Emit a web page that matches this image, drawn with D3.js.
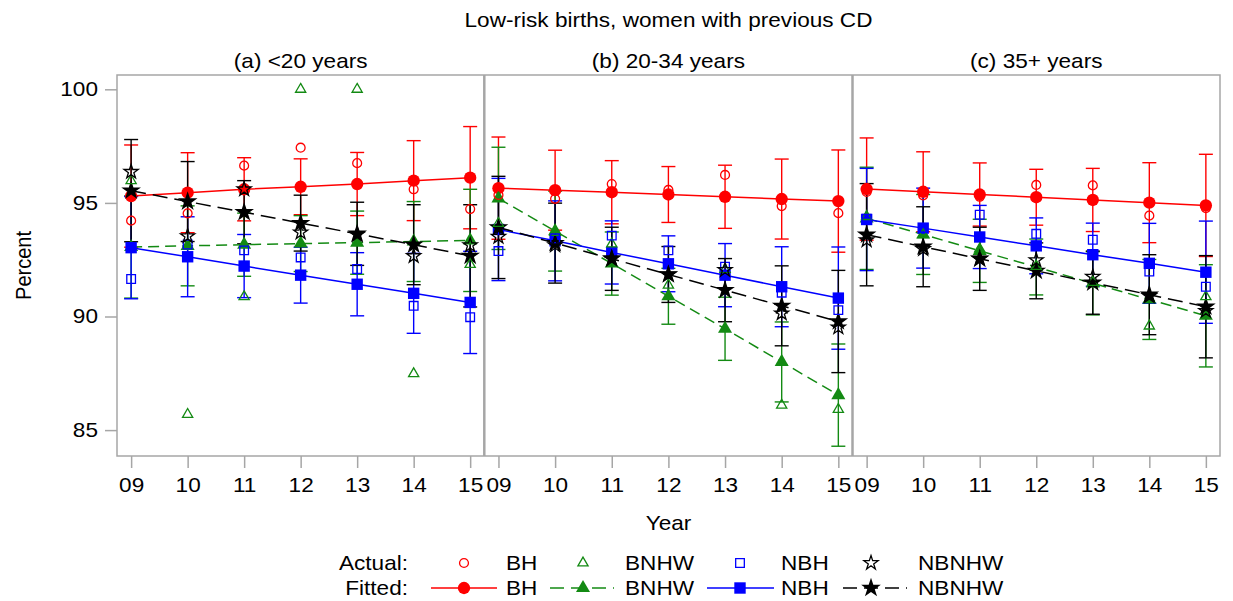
<!DOCTYPE html>
<html>
<head>
<meta charset="utf-8">
<script src="https://cdn.jsdelivr.net/npm/d3@7"></script>
<style>
  html, body { margin: 0; padding: 0; background: #fff; }
  svg { display: block; font-family: "Liberation Sans", Arial, sans-serif; }
</style>
</head>
<body>
<svg id="chart" width="1233" height="601"></svg>
<script>
// ---------------- data ----------------
const years = ["09", "10", "11", "12", "13", "14", "15"];
const panelTitles = ["(a) <20 years", "(b) 20-34 years", "(c) 35+ years"];
const seriesNames = ["BH", "BNHW", "NBH", "NBNHW"];
const yTicks = [85, 90, 95, 100];
// half-width of the confidence interval around each fitted value, per year
const ciHalf = [2.25, 1.76, 1.39, 1.23, 1.39, 1.76, 2.25];

// fitted values: one row per panel (a, b, c)
const fittedBH = [
  [95.30, 95.45, 95.60, 95.71, 95.83, 95.98, 96.11],
  [95.65, 95.56, 95.47, 95.37, 95.27, 95.17, 95.08],
  [95.61, 95.49, 95.37, 95.25, 95.13, 95.01, 94.89]
];
const fittedBNHW = [
  [93.06, 93.11, 93.16, 93.21, 93.25, 93.30, 93.35],
  [95.20, 93.76, 92.33, 90.89, 89.46, 88.00, 86.54],
  [94.32, 93.61, 92.89, 92.18, 91.46, 90.75, 90.03]
];
const fittedNBH = [
  [93.03, 92.63, 92.22, 91.82, 91.42, 91.02, 90.62],
  [93.83, 93.33, 92.82, 92.32, 91.82, 91.31, 90.81],
  [94.27, 93.89, 93.50, 93.11, 92.72, 92.34, 91.95]
];
const fittedNBNHW = [
  [95.54, 95.06, 94.59, 94.11, 93.64, 93.16, 92.67],
  [93.92, 93.23, 92.54, 91.85, 91.16, 90.47, 89.78],
  [93.60, 93.07, 92.54, 92.01, 91.49, 90.96, 90.43]
];

// actual values
const actualBH = [
  [94.22, 94.54, 96.64, 97.43, 96.75, 95.60, 94.73],
  [95.35, 95.18, 95.83, 95.57, 96.23, 94.86, 94.55],
  [95.48, 95.33, 95.27, 95.79, 95.77, 94.44, 94.77]
];
const actualBNHW = [
  [95.98, 85.69, 90.87, 100.0, 100.0, 87.48, 92.29],
  [94.10, 93.70, 93.19, 91.38, 92.07, 86.10, 85.91],
  [94.40, 93.60, 92.97, 92.20, 91.50, 89.58, 90.87]
];
const actualNBH = [
  [91.65, 93.17, 92.91, 92.60, 92.09, 90.47, 89.97],
  [92.88, 93.44, 93.56, 92.91, 92.19, 91.05, 90.28],
  [94.30, 93.90, 94.48, 93.64, 93.38, 91.98, 91.31]
];
const actualNBNHW = [
  [96.37, 93.54, 95.60, 93.70, 93.60, 92.66, 93.14],
  [93.51, 93.14, 92.56, 91.85, 92.05, 90.14, 89.52],
  [93.36, 92.97, 92.54, 92.48, 91.75, 90.90, 90.25]
];

// ---------------- styles ----------------
const styles = {
  BH:    { color: "#ff0000", dash: null,    fit: d3.symbolCircle,   fitSize: 120, act: d3.symbolCircle,   actSize: 62 },
  BNHW:  { color: "#138a13", dash: "11,6",  fit: d3.symbolTriangle, fitSize: 85,  act: d3.symbolTriangle, actSize: 45 },
  NBH:   { color: "#0000ff", dash: null,    fit: d3.symbolSquare,   fitSize: 130, act: d3.symbolSquare,   actSize: 75 },
  NBNHW: { color: "#000000", dash: "15,7",  fit: d3.symbolStar,     fitSize: 120, act: d3.symbolStar,     actSize: 62 }
};
const fittedBy = { BH: fittedBH, BNHW: fittedBNHW, NBH: fittedNBH, NBNHW: fittedNBNHW };
const actualBy = { BH: actualBH, BNHW: actualBNHW, NBH: actualNBH, NBNHW: actualNBNHW };

// ---------------- layout ----------------
const svg = d3.select("#chart");
const frameL = 117, frameR = 1220, frameT = 75, frameB = 456;
const panelEdges = [117, 484.3, 852.5, 1220];
const frameColor = "#a6a6a6";
const SX = 1.13; // horizontal stretch of the reference lettering

function label(x, y, str, size, anchor, rotate) {
  return svg.append("text")
    .attr("transform", `translate(${x},${y}) scale(${SX},1)` + (rotate ? ` rotate(${rotate})` : ""))
    .attr("text-anchor", anchor || "middle")
    .attr("font-size", size)
    .text(str);
}

const y = d3.scaleLinear().domain([83.86, 100.63]).range([frameB, frameT]);

// title
label(668.5, 27, "Low-risk births, women with previous CD", 20);

// y axis
const yAxis = d3.axisLeft(y).tickValues(yTicks).tickSize(12).tickPadding(6).tickFormat(d3.format("d"));
const gy = svg.append("g").attr("transform", `translate(${frameL},0)`).call(yAxis);
gy.select(".domain").remove();
gy.selectAll(".tick line").attr("stroke", frameColor).attr("stroke-width", 1.5);
gy.selectAll(".tick text").attr("font-size", 20).attr("fill", "#000")
  .attr("x", -19 / SX).attr("transform", `scale(${SX},1)`);

label(23, (frameT + frameB) / 2, "Percent", 20, "middle", -90).attr("dy", "0.35em");
label(668.5, 530, "Year", 20);

const line = (xs) => d3.line().x((d, i) => xs(years[i])).y(d => y(d));

panelTitles.forEach((title, p) => {
  const x0 = panelEdges[p], x1 = panelEdges[p + 1];
  const x = d3.scalePoint().domain(years).range([x0, x1]).padding(0.25);

  label((x0 + x1) / 2, 68, title, 20);

  const xAxis = d3.axisBottom(x).tickSize(12).tickPadding(10);
  const gx = svg.append("g").attr("transform", `translate(0,${frameB})`).call(xAxis);
  gx.select(".domain").remove();
  gx.selectAll(".tick line").attr("stroke", frameColor).attr("stroke-width", 1.5);
  gx.selectAll(".tick text").attr("font-size", 20).attr("fill", "#000")
    .attr("transform", `scale(${SX},1)`);

  const g = svg.append("g");
  // error bars
  seriesNames.forEach(s => {
    const st = styles[s];
    const fv = fittedBy[s][p];
    const eb = g.append("g").attr("stroke", st.color).attr("stroke-width", 1.4).attr("fill", "none");
    fv.forEach((v, i) => {
      const cx = x(years[i]), lo = y(v - ciHalf[i]), hi = y(v + ciHalf[i]);
      eb.append("line").attr("x1", cx).attr("x2", cx).attr("y1", lo).attr("y2", hi);
      eb.append("line").attr("x1", cx - 7).attr("x2", cx + 7).attr("y1", lo).attr("y2", lo);
      eb.append("line").attr("x1", cx - 7).attr("x2", cx + 7).attr("y1", hi).attr("y2", hi);
    });
  });
  // fitted lines + markers
  seriesNames.forEach(s => {
    const st = styles[s];
    const fv = fittedBy[s][p];
    g.append("path").attr("d", line(x)(fv)).attr("fill", "none")
      .attr("stroke", st.color).attr("stroke-width", 1.5)
      .attr("stroke-dasharray", st.dash);
    g.selectAll(null).data(fv).join("path")
      .attr("transform", (d, i) => `translate(${x(years[i])},${y(d)})`)
      .attr("d", d3.symbol().type(st.fit).size(st.fitSize)())
      .attr("fill", st.color);
  });
  // actual markers
  seriesNames.forEach(s => {
    const st = styles[s];
    const av = actualBy[s][p];
    g.selectAll(null).data(av).join("path")
      .attr("transform", (d, i) => `translate(${x(years[i])},${y(d)})`)
      .attr("d", d3.symbol().type(st.act).size(st.actSize)())
      .attr("fill", "none").attr("stroke", st.color).attr("stroke-width", 1.3);
  });
});

// frame and dividers
svg.append("rect").attr("x", frameL).attr("y", frameT).attr("width", frameR - frameL).attr("height", frameB - frameT)
  .attr("fill", "none").attr("stroke", frameColor).attr("stroke-width", 1.5);
[panelEdges[1], panelEdges[2]].forEach(px => {
  svg.append("line").attr("x1", px).attr("x2", px).attr("y1", frameT).attr("y2", frameB)
    .attr("stroke", frameColor).attr("stroke-width", 2.5);
});

// legend
const legendMarkX = [464, 583, 740, 871];
const legendTextX = [506, 625, 781, 918];
const legendLineX = [[431, 497], [550, 614], [707, 774], [843, 907]];
const rowActual = 563, rowFitted = 588;
label(408, rowActual, "Actual:", 20, "end").attr("dy", "0.35em");
label(408, rowFitted, "Fitted:", 20, "end").attr("dy", "0.35em");
seriesNames.forEach((s, i) => {
  const st = styles[s];
  svg.append("path").attr("transform", `translate(${legendMarkX[i]},${rowActual})`)
    .attr("d", d3.symbol().type(st.act).size(st.actSize)())
    .attr("fill", "none").attr("stroke", st.color).attr("stroke-width", 1.3);
  label(legendTextX[i], rowActual, s, 20, "start").attr("dy", "0.35em");
  svg.append("line").attr("x1", legendLineX[i][0]).attr("x2", legendLineX[i][1])
    .attr("y1", rowFitted).attr("y2", rowFitted)
    .attr("stroke", st.color).attr("stroke-width", 1.5).attr("stroke-dasharray", st.dash ? "14,7" : null);
  svg.append("path").attr("transform", `translate(${legendMarkX[i]},${rowFitted})`)
    .attr("d", d3.symbol().type(st.fit).size(st.fitSize)())
    .attr("fill", st.color);
  label(legendTextX[i], rowFitted, s, 20, "start").attr("dy", "0.35em");
});
</script>
</body>
</html>
